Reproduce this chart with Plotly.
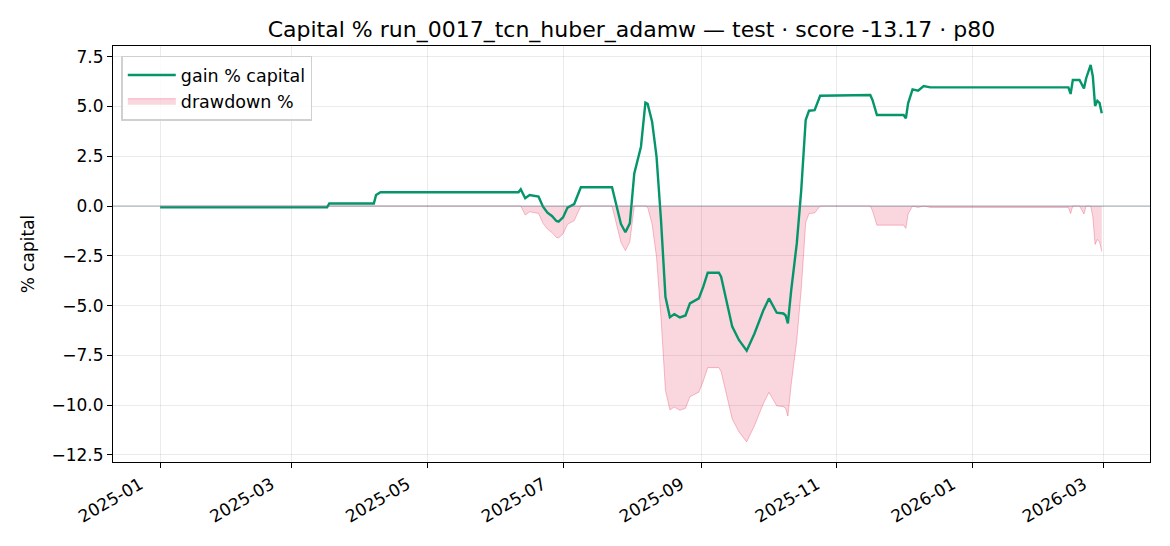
import plotly.graph_objects as go

dates = [
    "2025-01-01", "2025-03-17", "2025-03-18", "2025-04-07", "2025-04-08", "2025-04-10",
    "2025-06-11", "2025-06-12", "2025-06-14", "2025-06-16", "2025-06-20", "2025-06-22",
    "2025-06-24", "2025-06-26", "2025-06-28", "2025-06-29", "2025-07-01", "2025-07-03",
    "2025-07-06", "2025-07-09", "2025-07-23", "2025-07-27", "2025-07-29", "2025-07-31",
    "2025-08-02", "2025-08-04", "2025-08-05", "2025-08-07", "2025-08-08", "2025-08-10",
    "2025-08-12", "2025-08-14", "2025-08-16", "2025-08-18", "2025-08-20", "2025-08-22 12:00",
    "2025-08-25", "2025-08-27", "2025-08-31", "2025-09-02", "2025-09-04", "2025-09-09",
    "2025-09-10", "2025-09-15", "2025-09-18", "2025-09-21 12:00", "2025-09-25", "2025-09-29",
    "2025-10-01 12:00", "2025-10-05", "2025-10-08", "2025-10-09", "2025-10-10", "2025-10-11 12:00",
    "2025-10-14", "2025-10-16", "2025-10-18", "2025-10-19 12:00", "2025-10-22", "2025-10-24 12:00",
    "2025-11-16", "2025-11-17", "2025-11-19", "2025-12-01", "2025-12-02", "2025-12-03",
    "2025-12-05", "2025-12-07 12:00", "2025-12-10", "2025-12-13", "2026-02-13", "2026-02-14",
    "2026-02-15", "2026-02-18", "2026-02-20", "2026-02-21", "2026-02-23", "2026-02-24",
    "2026-02-25", "2026-02-26", "2026-02-27", "2026-02-28",
]

gain_pct = [
    -0.07, -0.07, 0.13, 0.13, 0.55, 0.69,
    0.69, 0.84, 0.39, 0.55, 0.47, -0.03,
    -0.33, -0.50, -0.75, -0.78, -0.57, -0.08,
    0.10, 0.94, 0.94, -0.90, -1.32, -0.87,
    1.64, 2.56, 2.98, 5.19, 5.13, 4.24,
    2.48, -0.70, -4.56, -5.59, -5.43, -5.60,
    -5.50, -4.89, -4.64, -4.05, -3.35, -3.35,
    -3.55, -6.06, -6.73, -7.27, -6.40, -5.23,
    -4.64, -5.36, -5.40, -5.50, -5.90, -4.22,
    -1.88, 0.80, 4.32, 4.79, 4.82, 5.54,
    5.58, 5.33, 4.57, 4.57, 4.40, 5.16,
    5.86, 5.79, 6.03, 5.96, 5.96, 5.63,
    6.33, 6.33, 5.91, 6.42, 7.09, 6.50,
    5.03, 5.29, 5.18, 4.66,
]

drawdown_pct = [
    0.0, 0.0, 0.0, 0.0, 0.0, 0.0,
    0.0, 0.0, -0.45, -0.29, -0.37, -0.87,
    -1.16, -1.33, -1.58, -1.60, -1.40, -0.92,
    -0.74, 0.0, 0.0, -1.82, -2.24, -1.80,
    0.0, 0.0, 0.0, 0.0, -0.06, -0.90,
    -2.58, -5.60, -9.26, -10.24, -10.10, -10.26,
    -10.16, -9.58, -9.35, -8.79, -8.12, -8.12,
    -8.31, -10.70, -11.34, -11.85, -11.03, -9.92,
    -9.36, -10.04, -10.08, -10.17, -10.55, -8.95,
    -6.73, -4.18, -0.83, -0.38, -0.35, 0.0,
    0.0, -0.24, -0.96, -0.96, -1.12, -0.40,
    0.0, -0.07, 0.0, -0.07, -0.07, -0.38,
    0.0, 0.0, -0.40, 0.0, 0.0, -0.55,
    -1.93, -1.68, -1.79, -2.28,
]

x_tick_vals = ["2025-01-01", "2025-03-01", "2025-05-01", "2025-07-01",
               "2025-09-01", "2025-11-01", "2026-01-01", "2026-03-01"]
x_tick_text = ["2025-01", "2025-03", "2025-05", "2025-07",
               "2025-09", "2025-11", "2026-01", "2026-03"]
y_tick_vals = [-12.5, -10.0, -7.5, -5.0, -2.5, 0.0, 2.5, 5.0, 7.5]

title_text = "Capital % run_0017_tcn_huber_adamw — test · score -13.17 · p80"

FONT = "DejaVu Sans"
GREEN = "#05956a"
TICK_SIZE = 17
LEGEND_SIZE = 17.5
TITLE_SIZE = 22

fig = go.Figure()

fig.add_trace(go.Scatter(
    x=dates, y=drawdown_pct, name="drawdown %", mode="lines",
    fill="tozeroy", fillcolor="rgba(225,29,72,0.18)",
    line=dict(color="rgba(225,29,72,0.28)", width=1),
    legendrank=2,
))

fig.add_trace(go.Scatter(
    x=dates, y=gain_pct, name="gain % capital", mode="lines",
    line=dict(color=GREEN, width=2.4),
    legendrank=1,
))

fig.add_shape(type="line", xref="paper", x0=0, x1=1, yref="y", y0=0, y1=0,
              line=dict(color="rgba(100,116,139,0.6)", width=1), layer="above")

fig.update_layout(
    width=1170, height=546,
    margin=dict(l=113, r=20, t=46, b=84),
    paper_bgcolor="white", plot_bgcolor="white",
    font=dict(family=FONT, size=TICK_SIZE, color="black"),
    title=dict(text=title_text, x=(113 + 1150) / 2 / 1170, xanchor="center",
               y=1 - 29 / 546, yanchor="middle",
               font=dict(family=FONT, size=TITLE_SIZE, color="black")),
    showlegend=True,
    legend=dict(x=0.008, y=0.977, xanchor="left", yanchor="top",
                bgcolor="rgba(255,255,255,0.85)", bordercolor="#d0d0d0", borderwidth=1.5,
                font=dict(family=FONT, size=LEGEND_SIZE), itemwidth=48),
)

fig.update_xaxes(
    type="date",
    range=["2024-12-10 20:00", "2026-03-21 16:00"],
    tickvals=x_tick_vals, ticktext=x_tick_text, tickangle=-30,
    ticklabelshift=-20,
    ticks="outside", ticklen=5, tickcolor="black",
    showline=True, linecolor="black", linewidth=1.2, mirror=True,
    showgrid=True, gridcolor="rgba(0,0,0,0.08)", gridwidth=1,
    zeroline=False, tickfont=dict(family=FONT, size=TICK_SIZE),
)

fig.update_yaxes(
    range=[-12.86, 8.04],
    tickvals=y_tick_vals, tickformat=".1f",
    ticks="outside", ticklen=5, tickcolor="black",
    showline=True, linecolor="black", linewidth=1.2, mirror=True,
    showgrid=True, gridcolor="rgba(0,0,0,0.08)", gridwidth=1,
    zeroline=False, tickfont=dict(family=FONT, size=TICK_SIZE),
    title=dict(text="% capital", font=dict(family=FONT, size=TICK_SIZE), standoff=12),
)

fig.write_html("out.html", config={"displayModeBar": False},
               post_script="document.body.style.margin='0';")
